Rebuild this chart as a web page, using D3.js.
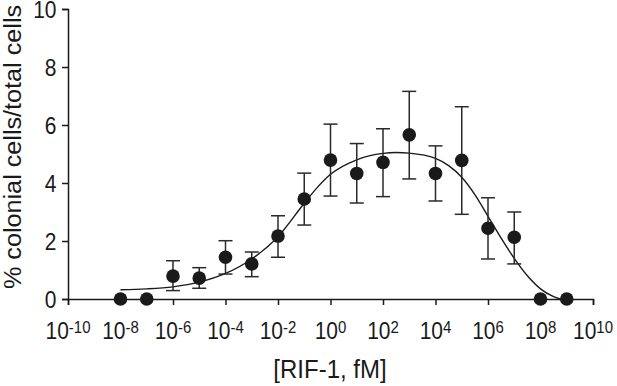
<!DOCTYPE html>
<html><head><meta charset="utf-8">
<script src="https://cdn.jsdelivr.net/npm/d3@7"></script>
<style>body{margin:0;background:#fff}svg{display:block}text{font-family:"Liberation Sans",Arial,sans-serif;fill:#1a1a1a}</style>
</head><body><svg id="c" width="617" height="386"></svg>
<script>
// data: concentration exponent (10^x fM), mean, upper and lower error-bar ends
const exponents = [-8,-7,-6,-5,-4,-3,-2,-1,0,1,2,3,4,5,6,7,8,9];
const means     = [0,0,0.79,0.72,1.44,1.21,2.17,3.45,4.79,4.33,4.71,5.66,4.33,4.78,2.44,2.13,0,0];
const upper     = [null,null,1.32,1.08,2.01,1.62,2.87,4.34,6.03,5.36,5.87,7.16,5.28,6.63,3.49,3.00,null,null];
const lower     = [null,null,0.29,0.37,0.86,0.77,1.44,2.55,3.55,3.31,3.53,4.14,3.38,2.92,1.38,1.21,null,null];
// fitted curve
const curveExp = [-8,-7,-6,-5,-4,-3,-2,-1,-0.5,0,1,2,2.5,3,4,4.5,5,5.5,6,6.5,7,7.5,8,8.5,8.75];
const curveVal = [0.32,0.35,0.42,0.58,0.88,1.38,2.15,3.3,3.85,4.3,4.8,5.02,5.05,5.03,4.85,4.6,4.2,3.6,2.85,2.1,1.4,0.8,0.35,0.08,0];
const xTickExp = [-10,-8,-6,-4,-2,0,2,4,6,8,10];
const yTicks = [0,2,4,6,8,10];

const svg = d3.select("#c");
const x = d3.scaleLog().domain([1e-10,1e10]).range([68,593]);
const y = d3.scaleLinear().domain([0,10]).range([299,9]);
const ink = "#1a1a1a";
const SY = 1.1; // glyphs in the figure are slightly taller than wide

// axes
const xAxis = svg.append("g").attr("transform","translate(0,299)")
  .call(d3.axisBottom(x).tickValues(xTickExp.map(e=>Math.pow(10,e))).tickSize(6).tickFormat(""));
const yAxis = svg.append("g").attr("transform","translate(68,0)")
  .call(d3.axisLeft(y).tickValues(yTicks).tickSize(6).tickFormat(""));
[xAxis,yAxis].forEach(a=>{
  a.select(".domain").attr("stroke",ink).attr("stroke-width",1.5);
  a.selectAll(".tick line").attr("stroke",ink).attr("stroke-width",1.5);
});

// x tick labels with superscripts
xTickExp.forEach(e=>{
  const t = svg.append("text")
    .attr("transform",`translate(${x(Math.pow(10,e))},339) scale(1,${SY})`)
    .attr("text-anchor","middle").style("font-size","21px");
  t.append("tspan").text("10");
  t.append("tspan").attr("dy",-5.5).style("font-size","15px").text(e);
});
// y tick labels
yTicks.forEach(v=>{
  svg.append("text").attr("transform",`translate(56.5,${y(v)}) scale(1,${SY})`)
    .attr("dy","0.41em").attr("text-anchor","end").style("font-size","21px").text(v);
});

// titles
svg.append("text").attr("transform",`translate(330,378) scale(1,${SY})`).attr("text-anchor","middle")
  .style("font-size","24px").text("[RIF-1, fM]");
svg.append("text").attr("transform","translate(21,147) rotate(-90) scale(1.05,1)").attr("text-anchor","middle")
  .style("font-size","24px").text("% colonial cells/total cells");

// curve
const line = d3.line().x((d,i)=>x(Math.pow(10,curveExp[i]))).y(d=>y(d)).curve(d3.curveMonotoneX);
svg.append("path").datum(curveVal).attr("d",line).attr("fill","none").attr("stroke",ink).attr("stroke-width",1.4);

// error bars
const eb = svg.append("g").attr("stroke","#2a2a2a").attr("stroke-width",1.5);
exponents.forEach((e,i)=>{
  if(upper[i]==null) return;
  const cx = x(Math.pow(10,e));
  eb.append("line").attr("x1",cx).attr("x2",cx).attr("y1",y(upper[i])).attr("y2",y(lower[i]));
  [upper[i],lower[i]].forEach(v=>eb.append("line").attr("x1",cx-7).attr("x2",cx+7).attr("y1",y(v)).attr("y2",y(v)));
});
// points
svg.selectAll(".pt").data(means).enter().append("circle")
  .attr("cx",(d,i)=>x(Math.pow(10,exponents[i]))).attr("cy",d=>y(d)).attr("r",6.8).attr("fill",ink);
</script></body></html>
